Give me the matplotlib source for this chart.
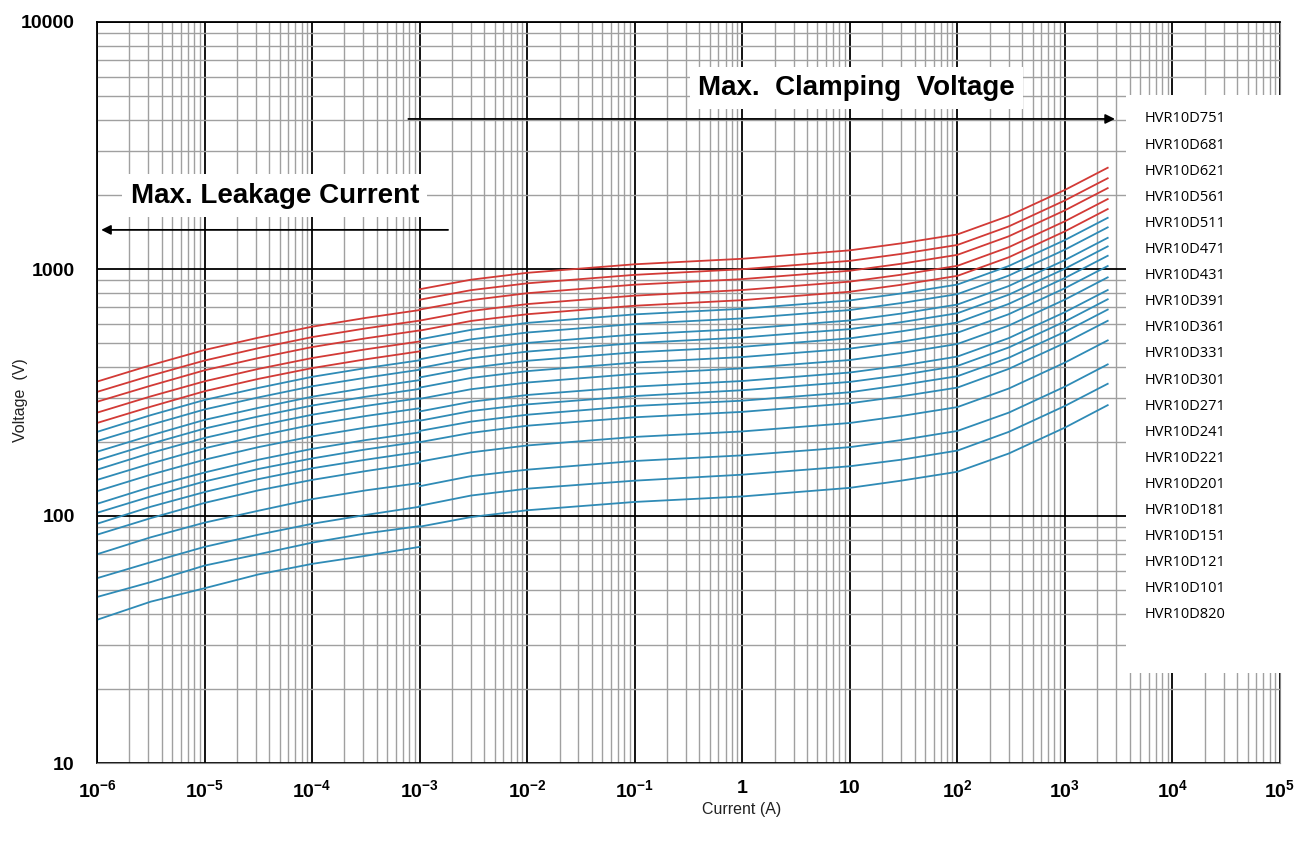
import matplotlib
matplotlib.use("Agg")
import matplotlib.pyplot as plt
import matplotlib.patches as mpatches
from matplotlib.ticker import LogLocator, NullFormatter
import numpy as np

plt.rcParams['font.family'] = ['Liberation Sans', 'DejaVu Sans']
plt.rcParams['mathtext.fontset'] = 'custom'
plt.rcParams['mathtext.rm'] = 'Liberation Sans'
plt.rcParams['mathtext.bf'] = 'Liberation Sans:bold'

# part numbers, top to bottom
models = ['HVR10D751', 'HVR10D681', 'HVR10D621', 'HVR10D561', 'HVR10D511',
          'HVR10D471', 'HVR10D431', 'HVR10D391', 'HVR10D361', 'HVR10D331',
          'HVR10D301', 'HVR10D271', 'HVR10D241', 'HVR10D221', 'HVR10D201',
          'HVR10D181', 'HVR10D151', 'HVR10D121', 'HVR10D101', 'HVR10D820']
n_red = 5

# max leakage current region (A -> V)
leak_current = [1e-6, 3.16e-6, 1e-5, 3.16e-5, 1e-4, 3.16e-4, 1e-3]
leak_voltage = [
    [350, 408, 470, 527, 584, 634, 682],
    [318, 370, 426, 478, 530, 575, 618],
    [290, 337, 389, 436, 483, 524, 564],
    [262, 305, 351, 394, 436, 473, 509],
    [238, 277, 320, 359, 397, 431, 464],
    [219, 256, 295, 330, 366, 397, 427],
    [201, 234, 270, 302, 335, 363, 391],
    [182, 212, 245, 274, 304, 330, 355],
    [168, 196, 226, 253, 280, 304, 327],
    [154, 180, 207, 232, 257, 279, 300],
    [140, 163, 188, 211, 234, 254, 273],
    [126, 147, 169, 190, 210, 228, 245],
    [112, 131, 150, 169, 187, 203, 218],
    [103, 120, 138, 155, 171, 186, 200],
    [93, 109, 125, 141, 156, 169, 182],
    [84, 98, 113, 127, 140, 152, 164],
    [70, 82, 94, 105, 117, 127, 136],
    [56, 65, 75, 84, 93, 101, 109],
    [47, 54, 63, 70, 78, 85, 91],
    [38, 45, 51, 58, 64, 69, 75],
]

# max clamping voltage region (A -> V)
clamp_current = [1e-3, 3e-3, 1e-2, 1e-1, 1, 10, 30, 100, 300, 1000, 2500]
clamp_voltage = [
    [828, 905, 965, 1045, 1100, 1190, 1270, 1380, 1640, 2090, 2570],
    [751, 821, 875, 947, 998, 1079, 1151, 1251, 1487, 1895, 2330],
    [685, 748, 798, 864, 910, 984, 1050, 1141, 1356, 1728, 2125],
    [618, 676, 721, 780, 822, 889, 948, 1030, 1225, 1561, 1919],
    [563, 616, 656, 710, 748, 809, 863, 938, 1115, 1421, 1748],
    [519, 567, 605, 655, 690, 746, 796, 865, 1028, 1310, 1611],
    [475, 519, 553, 599, 631, 682, 728, 791, 940, 1198, 1474],
    [431, 471, 502, 543, 572, 619, 660, 718, 853, 1087, 1337],
    [397, 435, 463, 501, 528, 571, 609, 662, 787, 1003, 1234],
    [364, 398, 425, 460, 484, 524, 559, 607, 722, 920, 1131],
    [331, 362, 386, 418, 440, 476, 508, 552, 656, 836, 1028],
    [298, 326, 347, 376, 396, 428, 457, 497, 590, 752, 925],
    [265, 290, 309, 334, 352, 381, 406, 442, 525, 669, 822],
    [243, 266, 283, 306, 323, 349, 372, 405, 481, 613, 754],
    [221, 241, 257, 279, 293, 317, 339, 368, 437, 557, 685],
    [199, 217, 232, 251, 264, 286, 305, 331, 394, 502, 617],
    [166, 181, 193, 209, 220, 238, 254, 276, 328, 418, 514],
    [132, 145, 154, 167, 176, 190, 203, 221, 262, 334, 411],
    [110, 121, 129, 139, 147, 159, 169, 184, 219, 279, 343],
    [90.5, 99, 105.5, 114, 120, 130, 139, 151, 179, 228, 281],
]

x_ticks = [1e-6, 1e-5, 1e-4, 1e-3, 1e-2, 1e-1, 1, 10, 1e2, 1e3, 1e4, 1e5]
x_labels = [r'$\mathbf{10^{-6}}$', r'$\mathbf{10^{-5}}$', r'$\mathbf{10^{-4}}$',
            r'$\mathbf{10^{-3}}$', r'$\mathbf{10^{-2}}$', r'$\mathbf{10^{-1}}$',
            '1', '10', r'$\mathbf{10^{2}}$', r'$\mathbf{10^{3}}$',
            r'$\mathbf{10^{4}}$', r'$\mathbf{10^{5}}$']
y_ticks = [10, 100, 1000, 10000]
y_labels = ['10', '100', '1000', '10000']

red = '#d23a36'
blue = '#2f8bb6'

fig = plt.figure(figsize=(13.04, 8.48), dpi=100)
ax = fig.add_axes([97 / 1304, 1 - 763 / 848, (1280 - 97) / 1304, (763 - 22) / 848])
ax.set_xscale('log')
ax.set_yscale('log')
ax.set_xlim(1e-6, 1e5)
ax.set_ylim(10, 10000)

ax.xaxis.set_minor_locator(LogLocator(base=10, subs=range(2, 10), numticks=100))
ax.yaxis.set_minor_locator(LogLocator(base=10, subs=range(2, 10), numticks=100))
ax.xaxis.set_minor_formatter(NullFormatter())
ax.yaxis.set_minor_formatter(NullFormatter())
ax.grid(which='minor', color='#a0a0a0', lw=1.0)
ax.grid(which='major', color='black', lw=1.3)
ax.set_axisbelow(True)

for i in range(len(models)):
    c = red if i < n_red else blue
    ax.plot(leak_current, leak_voltage[i], color=c, lw=1.3)
    ax.plot(clamp_current, clamp_voltage[i], color=c, lw=1.3)

ax.set_xticks(x_ticks)
ax.set_xticklabels(x_labels, fontsize=14, fontweight='bold')
ax.set_yticks(y_ticks)
ax.set_yticklabels(y_labels, fontsize=14, fontweight='bold')
ax.tick_params(which='both', length=0)
ax.tick_params(axis='y', pad=16)
ax.tick_params(axis='x', pad=12)
for s in ['left', 'top']:
    ax.spines[s].set_color('black')
    ax.spines[s].set_linewidth(1.3)
for s in ['bottom', 'right']:
    ax.spines[s].set_color('#8a8a8a')

ax.set_xlabel('Current (A)', fontsize=11.5, color='#222222', labelpad=0)
ax.set_ylabel('Voltage  (V)', fontsize=11.5, color='#222222')
ax.yaxis.set_label_coords(-0.058, 0.49)
ax.xaxis.set_label_coords(0.545, -0.052)

# annotations
ax.annotate('', xy=(3.1e3, 4050), xytext=(7.4e-4, 4050),
            arrowprops=dict(arrowstyle='-|>', color='black', lw=1.3,
                            mutation_scale=14))
ax.text(11.5, 5400, 'Max.  Clamping  Voltage', fontsize=20, fontweight='bold',
        ha='center', va='center',
        bbox=dict(facecolor='white', edgecolor='none', pad=6))
ax.annotate('', xy=(1.03e-6, 1440), xytext=(1.95e-3, 1440),
            arrowprops=dict(arrowstyle='-|>', color='black', lw=1.3,
                            mutation_scale=14))
ax.text(4.5e-5, 1980, 'Max. Leakage Current', fontsize=20, fontweight='bold',
        ha='center', va='center',
        bbox=dict(facecolor='white', edgecolor='none', pad=6))

# label box on the right
box = mpatches.Rectangle((1126 / 1304, 1 - 673 / 848), (1283 - 1126) / 1304,
                         (673 - 95) / 848, transform=fig.transFigure,
                         facecolor='white', edgecolor='none', zorder=5)
fig.patches.append(box)
for i, m in enumerate(models):
    fig.text(1145 / 1304, 1 - (119 + i * 26.1) / 848, m, fontsize=10.5,
             family=['Open Sans', 'DejaVu Sans'], va='center', ha='left',
             zorder=6)

fig.savefig('out.png', dpi=100)
